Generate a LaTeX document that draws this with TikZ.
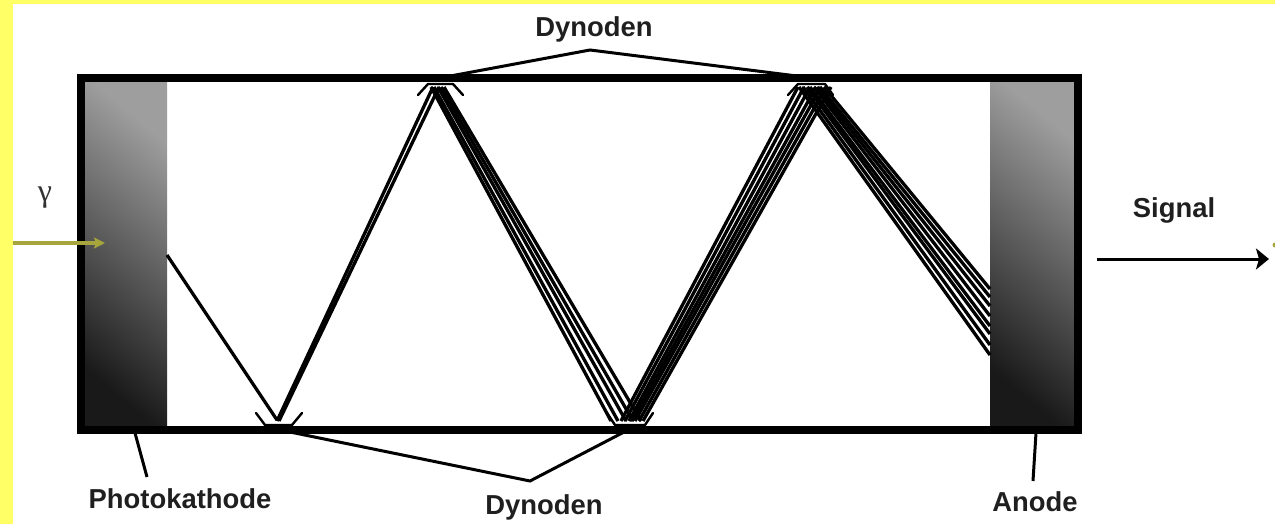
\documentclass[tikz,border=0pt]{standalone}
\usepackage{fontspec}
\setmainfont{Liberation Sans}
\newfontfamily\gammafont{Liberation Serif}
\usetikzlibrary{arrows.meta}
\definecolor{bgyellow}{HTML}{FFFF66}
\definecolor{olive}{HTML}{A6A63C}
\tikzset{
  lbl/.style={font=\fontsize{27.4}{30}\selectfont\bfseries,text=black!88,inner sep=0pt},
  beam/.style={draw=black,line width=3.3pt,line cap=butt},
  dyn/.style={draw=black,line width=2.4pt,line cap=round,line join=round},
  lead/.style={draw=black,line width=3pt},
  plate/.style={top color=black!38,bottom color=black!90,middle color=black!64,shading angle=-40}
}
\begin{document}
\begin{tikzpicture}[x=1pt,y=-1pt]
\useasboundingbox (0,0) rectangle (1275,524);
\fill[bgyellow] (0,0) rectangle (1275,524);
\fill[white] (13,4) rectangle (1275,524);
% plates
\fill[plate] (85,82) rectangle (167,428);
\fill[plate] (990,82) rectangle (1078,428);
% beams
\coordinate (pk) at (167,255);
\coordinate (d1) at (277,420);
\draw[beam] (pk) -- (d1);
\foreach \i/\a/\b in {1/277/433,2/279/439}{
  \coordinate (p\i) at (\a,421); \coordinate (q\i) at (\b,87);
  \draw[beam] (p\i) -- (q\i);}
\foreach \i/\a/\b in {1/431/611,2/434/618,3/438/626,4/441/633,5/444/641}{
  \coordinate (r\i) at (\a,87); \coordinate (s\i) at (\b,421);
  \draw[beam] (r\i) -- (s\i);}
\foreach \i/\a/\b in {1/621/798,2/625/804,3/629/810,4/632/816,5/635/821,6/639/826,7/643/831}{
  \coordinate (t\i) at (\a,421); \coordinate (u\i) at (\b,87);
  \draw[beam] (t\i) -- (u\i);}
\foreach \i/\a/\b in {1/824/289,2/820/297,3/817/306,4/814/316,5/810/326,6/807/334,7/803/345,8/799/355}{
  \coordinate (v\i) at (\a,87); \coordinate (w\i) at (990,\b);
  \draw[beam] (v\i) -- (w\i);}
% dynodes
\draw[dyn] (256,413) -- (265,425) -- (292,425) -- (302,413);
\draw[dyn] (607,413) -- (615,425) -- (645,425) -- (653,413);
\draw[dyn] (418,95) -- (428,84) -- (453,84) -- (463,95);
\draw[dyn] (788,95) -- (798,84) -- (825,84) -- (833,95);
% tube wall
\node[draw=black,line width=8pt,inner sep=0pt,outer sep=0pt,minimum width=997pt,minimum height=352pt,anchor=north west] (tube) at (81,78) {};
% labels
\node[lbl] (lpk) at (180,499) {Photokathode};
\node[lbl] (ldb) at (544,507) {Dynoden};
\node[lbl] (ldt) at (594,29) {Dynoden};
\node[lbl] (lan) at (1035,502) {Anode};
\node[lbl] (lsg) at (1174,210) {Signal};
\node[inner sep=0pt,text=black!80,font=\fontsize{32}{34}\selectfont\gammafont] (lgm) at (45,198) {γ};
% leaders
\coordinate (jt) at (590,50);
\coordinate (jb) at (530,481);
\coordinate (dt1) at (445,77);
\coordinate (dt2) at (797,76);
\coordinate (db1) at (285,431);
\coordinate (db2) at (626,431);
\coordinate (pk2) at (135,433);
\coordinate (pk3) at (147,477);
\coordinate (an2) at (1036,433);
\coordinate (an3) at (1033,481);
\draw[lead] (dt1) -- (jt) -- (dt2);
\draw[lead] (db1) -- (jb) -- (db2);
\draw[lead] (pk2) -- (pk3);
\draw[lead] (an2) -- (an3);
% arrows
\coordinate (g1) at (13,243);
\coordinate (g2) at (105,243);
\draw[olive,line width=4pt,-{Stealth[length=11pt,width=11pt,inset=2pt]}] (g1) -- (g2);
\coordinate (s1) at (1097,259);
\coordinate (s2) at (1269,259);
\draw[black,line width=3pt,-{Stealth[length=13pt,width=21pt,inset=3pt]}] (s1) -- (s2);
\fill[olive] (1275,245) circle (2.5pt);
\end{tikzpicture}
\end{document}
